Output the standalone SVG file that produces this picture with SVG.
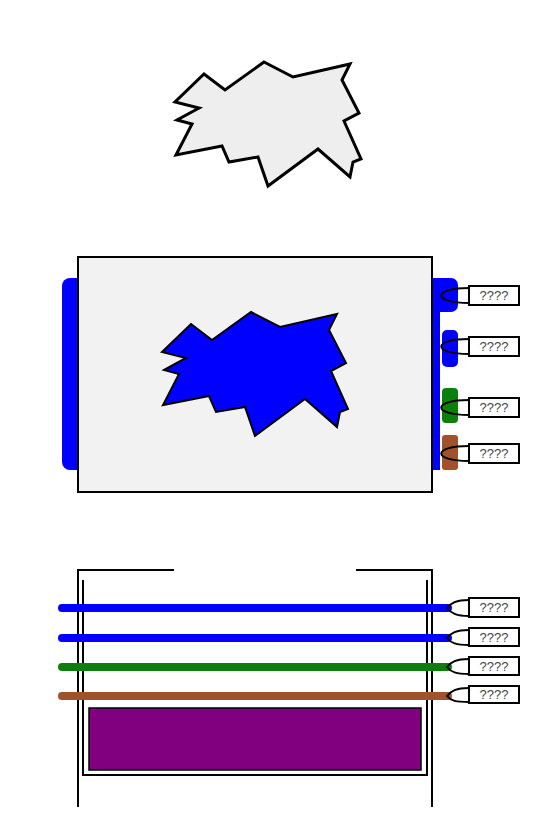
<svg xmlns="http://www.w3.org/2000/svg" width="542" height="840" viewBox="0 0 542 840">
<defs>
<style>
.shape{stroke:#000;stroke-width:3;stroke-linejoin:miter}
.box{fill:#fff;stroke:#000;stroke-width:2}
.lbl{font-family:"Liberation Sans",Arial,sans-serif;font-size:13px;fill:#444;text-anchor:middle}
.curve{fill:none;stroke:#000;stroke-width:2}
.line{fill:none;stroke:#000;stroke-width:2}
.wire{stroke-width:8;stroke-linecap:round;fill:none}
</style>
<polygon id="blob" points="264,62 293,77 350,64 342,80 359,113 344,121 361,159 353,162 350,177 318,149 268,186 258,157 229,162 222,146 176,155 192,124 177,120 199,108 175,102 204,74 225,90"/>
</defs>
<rect width="542" height="840" fill="#fff"/>

<g id="top-shape">
<use href="#blob" class="shape" fill="#eeeeee"/>
</g>

<g id="middle">
<rect x="62" y="278" width="30" height="192" rx="8" fill="#0000ff"/>
<rect x="426" y="278" width="14" height="192" fill="#0000ff"/>
<rect x="426" y="278" width="32" height="34" rx="7" fill="#0000ff"/>
<rect x="442" y="330" width="16" height="37" rx="5" fill="#0000ff"/>
<rect x="442" y="388" width="16" height="35" rx="4" fill="#0a800a"/>
<rect x="442" y="435" width="16" height="35" rx="3" fill="#a0522d"/>
<rect x="78" y="257" width="354" height="235" fill="#f2f2f2" stroke="#000" stroke-width="2"/>
<use href="#blob" transform="translate(-13,250)" fill="#0000ff" stroke="#000" stroke-width="2"/>
</g>

<g id="middle-labels">
<path class="curve" d="M469,288 C432,288 432,303 469,303"/>
<rect class="box" x="469" y="286" width="50" height="19"/>
<text class="lbl" x="494" y="300">????</text>
<path class="curve" d="M469,339 C432,339 432,354 469,354"/>
<rect class="box" x="469" y="337" width="50" height="19"/>
<text class="lbl" x="494" y="351">????</text>
<path class="curve" d="M469,400 C432,400 432,415 469,415"/>
<rect class="box" x="469" y="398" width="50" height="19"/>
<text class="lbl" x="494" y="412">????</text>
<path class="curve" d="M469,446 C432,446 432,461 469,461"/>
<rect class="box" x="469" y="444" width="50" height="19"/>
<text class="lbl" x="494" y="458">????</text>
</g>

<g id="bottom">
<path class="line" d="M174,570 H78 V807"/>
<path class="line" d="M356,570 H432 V807"/>
<path class="line" d="M83,580 V775 H427 V580"/>
<rect x="89" y="708" width="332" height="62" fill="#800080" stroke="#000" stroke-width="1.5"/>
</g>

<g id="connectors">
<line class="wire" x1="62" y1="608" x2="448" y2="608" stroke="#0000ff"/>
<line class="wire" x1="62" y1="638" x2="448" y2="638" stroke="#0000ff"/>
<line class="wire" x1="62" y1="667" x2="448" y2="667" stroke="#0a800a"/>
<line class="wire" x1="62" y1="696" x2="448" y2="696" stroke="#a0522d"/>
<path class="curve" d="M469,600 C456,600 451,603 447,608 C451,613 456,616 469,616"/>
<path class="curve" d="M469,630 C456,630 451,633 447,638 C451,643 456,645 469,645"/>
<path class="curve" d="M469,659 C456,659 451,662 447,667 C451,672 456,674 469,674"/>
<path class="curve" d="M469,688 C456,688 451,691 447,696 C451,701 456,702 469,702"/>
</g>

<g id="bottom-labels">
<rect class="box" x="469" y="598" width="50" height="19"/>
<text class="lbl" x="494" y="612">????</text>
<rect class="box" x="469" y="628" width="50" height="18"/>
<text class="lbl" x="494" y="642">????</text>
<rect class="box" x="469" y="657" width="50" height="18"/>
<text class="lbl" x="494" y="671">????</text>
<rect class="box" x="469" y="686" width="50" height="17"/>
<text class="lbl" x="494" y="699">????</text>
</g>
</svg>
